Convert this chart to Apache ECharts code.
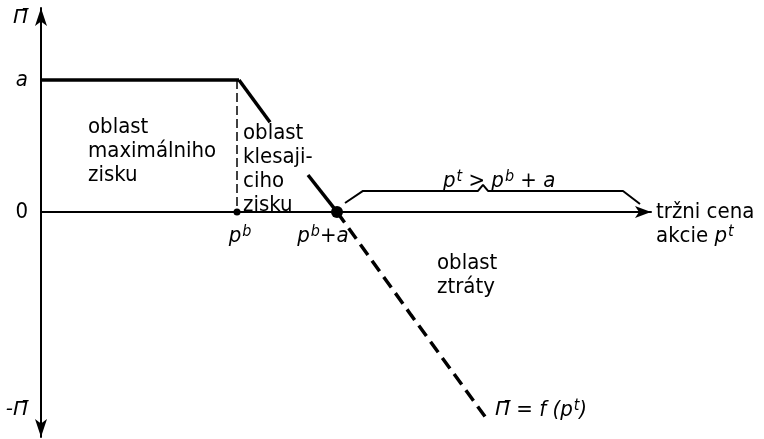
<!DOCTYPE html>
<html>
<head>
<meta charset="utf-8">
<script src="https://cdn.jsdelivr.net/npm/echarts@6/dist/echarts.min.js"></script>
<style>
  html, body { margin: 0; padding: 0; background: #fff; }
  #chart { width: 764px; height: 439px; }
</style>
</head>
<body>
<div id="chart"></div>
<script>
// profit line: flat at a, then falling through p^b + a
var flatLine = [[0, 1], [3.96, 1]];
var fallSolid1 = [[3.96, 1], [4.58, 0.68]];
var fallSolid2 = [[5.34, 0.28], [5.92, 0]];
var fallDashed = [[5.92, 0], [7.4, -0.78], [8.88, -1.55]];
var pbDrop = [[3.92, 1], [3.92, 0]];
var brace = [[6.08, 0.068], [6.44, 0.159], [8.74, 0.159], [8.84, 0.205], [8.94, 0.159], [11.64, 0.159], [11.98, 0.06]];
var keyPoints = [[3.92, 0, 7], [5.92, 0, 12]];

// ticks (rich text: i = italic, s = superscript, pi = barred Pi)
var xTickValues = [3.92, 5.92];
var xTickLabels = ['{i|p}{s|b}', '{i|p}{s|b}{i|+a}'];
var yTickValues = [1, 0, -1.5];
var yTickLabels = ['{i|a}', '0', '{pi|-Π̄}'];

// text blocks
var notes = [
  { at: [0.94, 0.462], text: 'oblast\nmaximálniho\nzisku' },
  { at: [4.04, 0.326], text: 'oblast\nklesaji-\nciho\nzisku' },
  { at: [8.04, 0.235], text: '{i|p}{s|t}{i| > p}{s|b}{i| + a}' },
  { at: [7.92, -0.48], text: 'oblast\nztráty' },
  { at: [9.08, -1.5], text: '{pi|Π̄}{i| = f (p}{s|t}{i|)}' }
];

var FONT = 'DejaVu Sans Condensed';
var SIZE = 22;
var rich = {
  i: { fontFamily: FONT, fontSize: SIZE, fontStyle: 'italic', color: '#000', lineHeight: 24 },
  s: { fontFamily: FONT, fontSize: 16, fontStyle: 'italic', color: '#000', lineHeight: 16, verticalAlign: 'top', padding: [0, 0, 0, 1] },
  pi: { fontFamily: 'DejaVu Sans', fontSize: 20, fontStyle: 'italic', color: '#000', lineHeight: 24 }
};

var chart = echarts.init(document.getElementById('chart'));

function lineSeries(data, width, type) {
  return {
    type: 'line', data: data, symbol: 'none', silent: true, animation: false,
    lineStyle: { color: '#000', width: width, type: type || 'solid', cap: 'butt' }
  };
}

var textStyle = {
  fontFamily: FONT, fontSize: SIZE, lineHeight: 24, color: '#000', opacity: 1,
  textBorderWidth: 0, rich: rich
};

var option = {
  backgroundColor: '#fff',
  animation: false,
  grid: { left: 41, right: 113, top: 8, bottom: 2, containLabel: false, outerBoundsMode: 'none' },
  xAxis: {
    type: 'value', min: 0, max: 12.2,
    splitLine: { show: false },
    axisLine: { onZero: true, lineStyle: { color: '#000', width: 2 }, symbol: ['none', 'arrow'], symbolSize: [9, 16] },
    axisTick: { show: false },
    axisLabel: { show: false },
    name: 'tržni cena\nakcie {i|p}{s|t}', nameLocation: 'end', nameGap: 5,
    nameTextStyle: {
      fontFamily: FONT, fontSize: SIZE, color: '#000', align: 'left', verticalAlign: 'top',
      lineHeight: 24, padding: [-12, 0, 0, 0], rich: rich
    }
  },
  yAxis: {
    type: 'value', min: -1.705, max: 1.545,
    splitLine: { show: false },
    axisLine: { lineStyle: { color: '#000', width: 2 }, symbol: ['arrow', 'arrow'], symbolSize: [9, 18] },
    axisTick: { show: false },
    axisLabel: {
      customValues: yTickValues, margin: 13,
      fontFamily: FONT, fontSize: SIZE, color: '#000', rich: rich,
      formatter: function (v) { return yTickLabels[yTickValues.indexOf(v)]; }
    },
    name: 'Π̄', nameLocation: 'end', nameGap: -20,
    nameTextStyle: { fontFamily: 'DejaVu Sans', fontSize: 20, fontStyle: 'italic', color: '#000', align: 'right', padding: [0, 13, 0, 0] }
  },
  series: [
    lineSeries(flatLine, 3.5),
    lineSeries(fallSolid1, 3.5),
    lineSeries(fallSolid2, 3.5),
    lineSeries(fallDashed, 3.5, [13, 7]),
    lineSeries(pbDrop, 1.5, [9, 4]),
    lineSeries(brace, 2),
    {
      type: 'scatter', silent: true, animation: false,
      data: keyPoints.map(function (p) { return [p[0], p[1]]; }),
      symbolSize: function (v, p) { return keyPoints[p.dataIndex][2]; },
      itemStyle: { color: '#000', opacity: 1 }
    },
    {
      // x tick labels placed under the axis at y = 0
      type: 'scatter', silent: true, animation: false, symbolSize: 0,
      itemStyle: { opacity: 1 },
      data: xTickValues.map(function (v, i) {
        return { value: [v, 0], name: xTickLabels[i], label: { offset: [i === 1 ? -14 : 3, 0] } };
      }),
      label: Object.assign({
        show: true, position: 'bottom', distance: 12,
        formatter: function (p) { return p.name; }
      }, textStyle)
    },
    {
      type: 'scatter', silent: true, animation: false, symbolSize: 0,
      itemStyle: { opacity: 1 },
      data: notes.map(function (n) { return { value: n.at, name: n.text }; }),
      label: Object.assign({
        show: true, position: 'right', distance: 0, align: 'left',
        formatter: function (p) { return p.name; }
      }, textStyle)
    }
  ]
};

option && chart.setOption(option);
</script>
</body>
</html>
